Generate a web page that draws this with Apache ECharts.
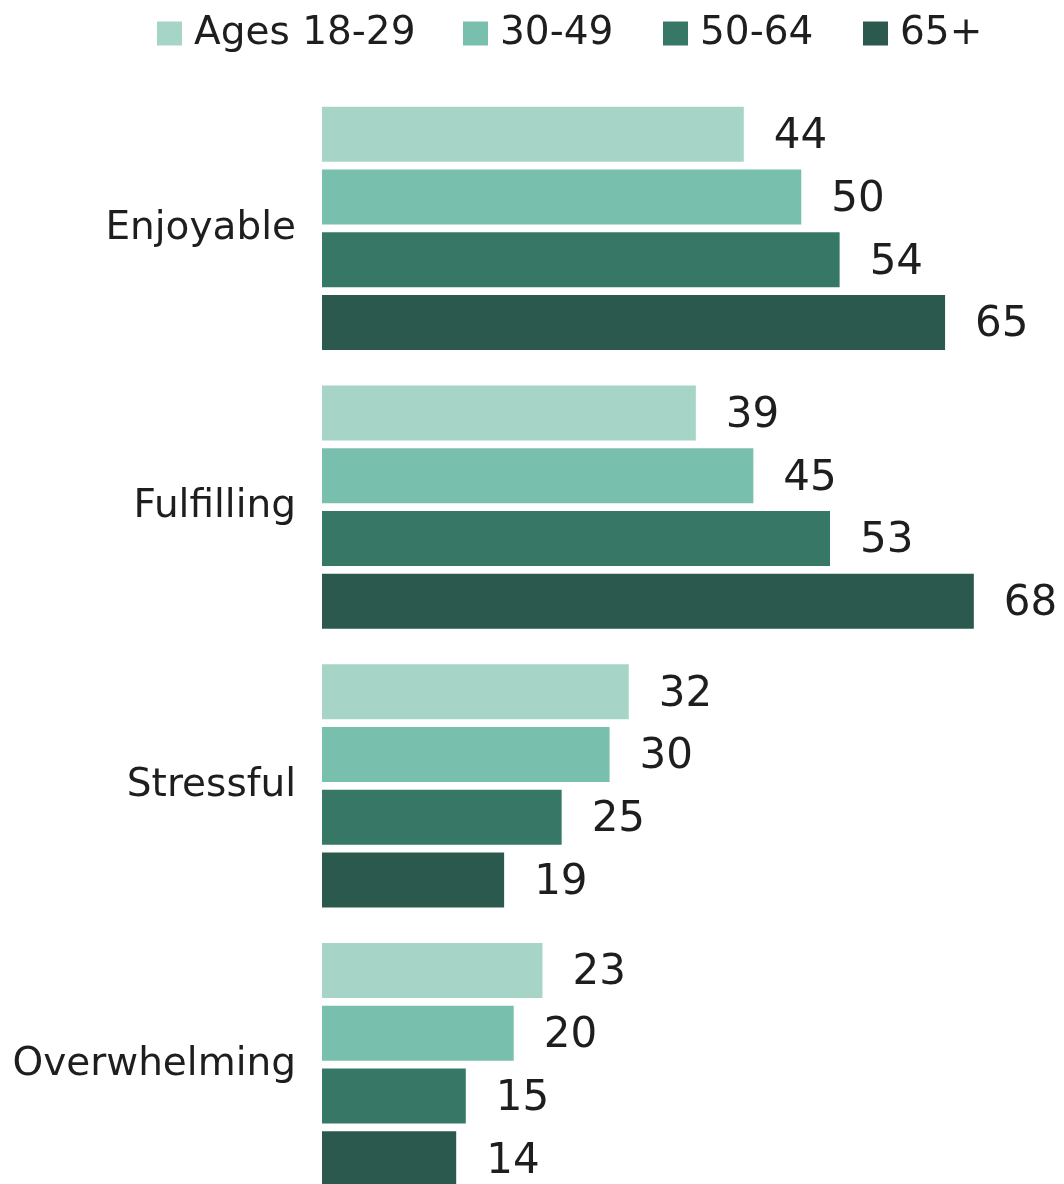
<!DOCTYPE html>
<html>
<head>
<meta charset="utf-8">
<script src="https://cdn.jsdelivr.net/npm/echarts@6/dist/echarts.min.js"></script>
<style>
html,body{margin:0;padding:0;background:#fff;overflow:hidden;}
#chart{width:1064px;height:1204px;}
</style>
</head>
<body>
<div id="chart"></div>
<script>
const categories = ['Enjoyable', 'Fulfilling', 'Stressful', 'Overwhelming'];
const seriesNames = ['Ages 18-29', '30-49', '50-64', '65+'];
const ages18to29 = [44, 39, 32, 23];
const ages30to49 = [50, 45, 30, 20];
const ages50to64 = [54, 53, 25, 15];
const ages65plus = [65, 68, 19, 14];
const seriesValues = [ages18to29, ages30to49, ages50to64, ages65plus];
const colors = ['#a6d5c8', '#78bfae', '#377766', '#2c594d'];

const FONT = 'DejaVu Sans';
const chart = echarts.init(document.getElementById('chart'), null, {renderer: 'canvas'});

const legendLefts = [152, 458, 658, 858];
const legends = seriesNames.map((n, i) => ({
  data: [n],
  left: legendLefts[i],
  top: 9,
  itemWidth: 25,
  itemHeight: 24,
  icon: 'rect',
  selectedMode: false,
  textStyle: {fontFamily: FONT, fontSize: 39, color: '#1e1e1e', padding: [0, 0, 0, 7]}
}));

const series = seriesNames.map((n, i) => ({
  name: n,
  type: 'bar',
  data: seriesValues[i],
  barWidth: 55,
  barGap: '14%',
  itemStyle: {color: colors[i]},
  label: {
    show: true,
    position: 'right',
    distance: 30,
    fontFamily: FONT,
    fontSize: 42,
    color: '#1e1e1e',
    offset: [0, 3]
  },
  emphasis: {disabled: true},
  animation: false
}));

chart.setOption({
  animation: false,
  legend: legends,
  grid: {left: 322, top: 89, right: 71, bottom: 0, containLabel: false},
  xAxis: {
    type: 'value', min: 0, max: 70, interval: 10,
    show: false
  },
  yAxis: {
    type: 'category',
    data: categories,
    inverse: true,
    axisLine: {show: false},
    axisTick: {show: false},
    axisLabel: {fontFamily: FONT, fontSize: 39, color: '#1e1e1e', margin: 26}
  },
  series: series
});
</script>
</body>
</html>
